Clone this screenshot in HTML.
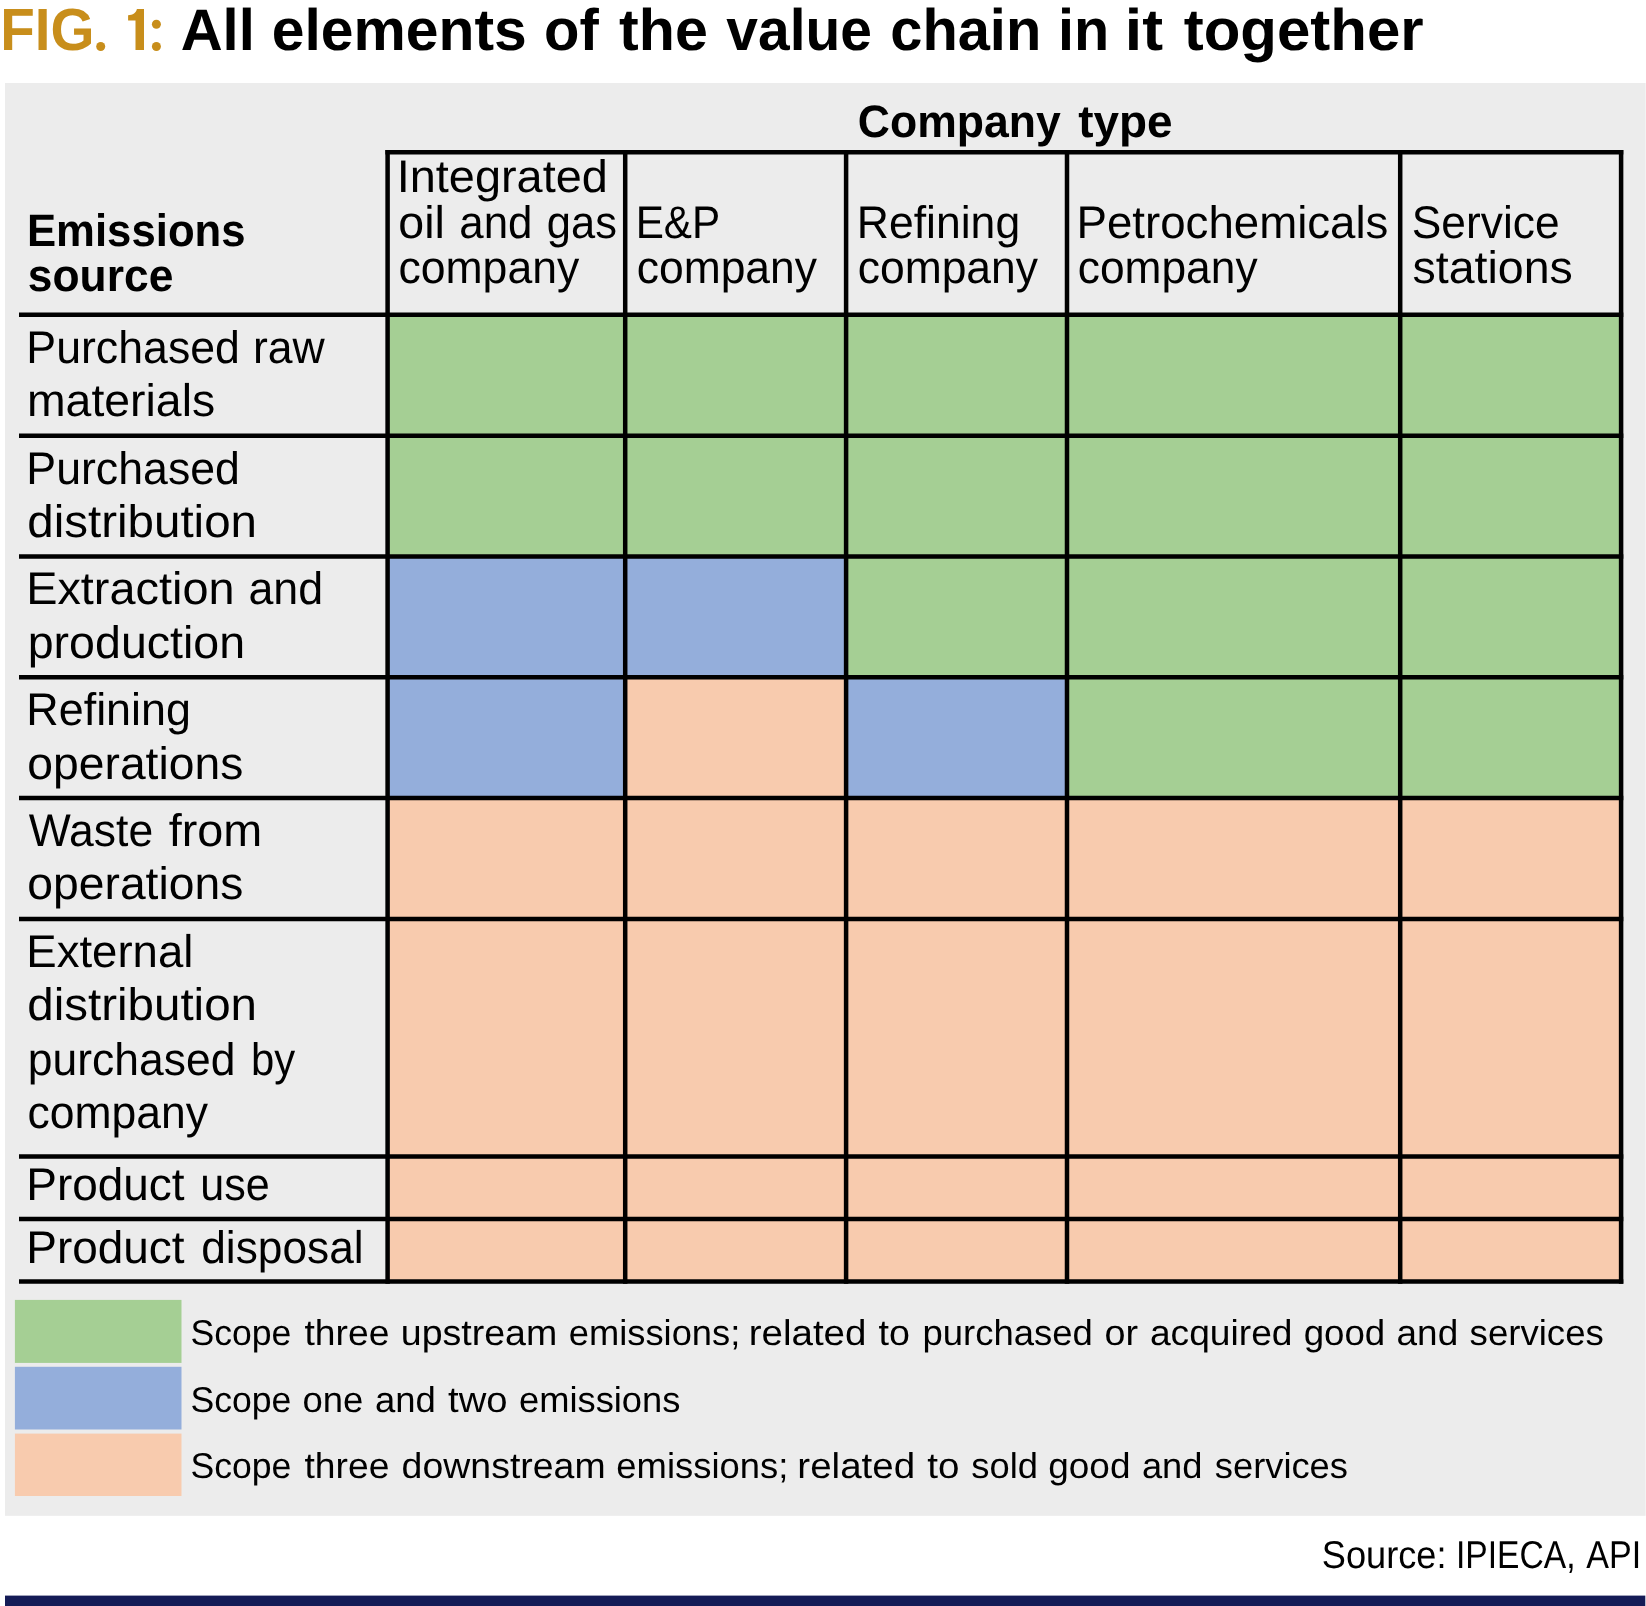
<!DOCTYPE html>
<html lang="en"><head><meta charset="utf-8"><title>FIG. 1: All elements of the value chain in it together</title>
<style>
html,body{margin:0;padding:0;background:#fff;}
body{width:1646px;height:1606px;overflow:hidden;font-family:"Liberation Sans",sans-serif;}
svg{display:block;will-change:transform;}
text{font-family:"Liberation Sans",sans-serif;fill:#000;text-rendering:geometricPrecision;}
.b{font-weight:bold;}
</style></head><body>
<svg width="1646" height="1606" viewBox="0 0 1646 1606">
<rect x="0" y="0" width="1646" height="1606" fill="#fff"/>
<rect x="5" y="83" width="1640.6" height="1432.8" fill="#ececec"/>
<rect x="5" y="1595.6" width="1640.3" height="12" fill="#141b56"/>
<rect x="387.6" y="314.8" width="237.6" height="121.0" fill="#a5cf94"/>
<rect x="625.2" y="314.8" width="220.9" height="121.0" fill="#a5cf94"/>
<rect x="846.1" y="314.8" width="220.9" height="121.0" fill="#a5cf94"/>
<rect x="1067.0" y="314.8" width="333.2" height="121.0" fill="#a5cf94"/>
<rect x="1400.2" y="314.8" width="220.9" height="121.0" fill="#a5cf94"/>
<rect x="387.6" y="435.8" width="237.6" height="120.6" fill="#a5cf94"/>
<rect x="625.2" y="435.8" width="220.9" height="120.6" fill="#a5cf94"/>
<rect x="846.1" y="435.8" width="220.9" height="120.6" fill="#a5cf94"/>
<rect x="1067.0" y="435.8" width="333.2" height="120.6" fill="#a5cf94"/>
<rect x="1400.2" y="435.8" width="220.9" height="120.6" fill="#a5cf94"/>
<rect x="387.6" y="556.4" width="237.6" height="120.8" fill="#94aedb"/>
<rect x="625.2" y="556.4" width="220.9" height="120.8" fill="#94aedb"/>
<rect x="846.1" y="556.4" width="220.9" height="120.8" fill="#a5cf94"/>
<rect x="1067.0" y="556.4" width="333.2" height="120.8" fill="#a5cf94"/>
<rect x="1400.2" y="556.4" width="220.9" height="120.8" fill="#a5cf94"/>
<rect x="387.6" y="677.2" width="237.6" height="120.7" fill="#94aedb"/>
<rect x="625.2" y="677.2" width="220.9" height="120.7" fill="#f8cbae"/>
<rect x="846.1" y="677.2" width="220.9" height="120.7" fill="#94aedb"/>
<rect x="1067.0" y="677.2" width="333.2" height="120.7" fill="#a5cf94"/>
<rect x="1400.2" y="677.2" width="220.9" height="120.7" fill="#a5cf94"/>
<rect x="387.6" y="797.9" width="237.6" height="121.1" fill="#f8cbae"/>
<rect x="625.2" y="797.9" width="220.9" height="121.1" fill="#f8cbae"/>
<rect x="846.1" y="797.9" width="220.9" height="121.1" fill="#f8cbae"/>
<rect x="1067.0" y="797.9" width="333.2" height="121.1" fill="#f8cbae"/>
<rect x="1400.2" y="797.9" width="220.9" height="121.1" fill="#f8cbae"/>
<rect x="387.6" y="919.0" width="237.6" height="237.5" fill="#f8cbae"/>
<rect x="625.2" y="919.0" width="220.9" height="237.5" fill="#f8cbae"/>
<rect x="846.1" y="919.0" width="220.9" height="237.5" fill="#f8cbae"/>
<rect x="1067.0" y="919.0" width="333.2" height="237.5" fill="#f8cbae"/>
<rect x="1400.2" y="919.0" width="220.9" height="237.5" fill="#f8cbae"/>
<rect x="387.6" y="1156.5" width="237.6" height="62.5" fill="#f8cbae"/>
<rect x="625.2" y="1156.5" width="220.9" height="62.5" fill="#f8cbae"/>
<rect x="846.1" y="1156.5" width="220.9" height="62.5" fill="#f8cbae"/>
<rect x="1067.0" y="1156.5" width="333.2" height="62.5" fill="#f8cbae"/>
<rect x="1400.2" y="1156.5" width="220.9" height="62.5" fill="#f8cbae"/>
<rect x="387.6" y="1219.0" width="237.6" height="62.5" fill="#f8cbae"/>
<rect x="625.2" y="1219.0" width="220.9" height="62.5" fill="#f8cbae"/>
<rect x="846.1" y="1219.0" width="220.9" height="62.5" fill="#f8cbae"/>
<rect x="1067.0" y="1219.0" width="333.2" height="62.5" fill="#f8cbae"/>
<rect x="1400.2" y="1219.0" width="220.9" height="62.5" fill="#f8cbae"/>
<g stroke="#000" stroke-width="4.5" stroke-linecap="butt" fill="none">
<line x1="385.4" y1="152.3" x2="1623.3" y2="152.3"/>
<line x1="19.0" y1="314.8" x2="1623.3" y2="314.8"/>
<line x1="19.0" y1="435.8" x2="1623.3" y2="435.8"/>
<line x1="19.0" y1="556.4" x2="1623.3" y2="556.4"/>
<line x1="19.0" y1="677.2" x2="1623.3" y2="677.2"/>
<line x1="19.0" y1="797.9" x2="1623.3" y2="797.9"/>
<line x1="19.0" y1="919.0" x2="1623.3" y2="919.0"/>
<line x1="19.0" y1="1156.5" x2="1623.3" y2="1156.5"/>
<line x1="19.0" y1="1219.0" x2="1623.3" y2="1219.0"/>
<line x1="19.0" y1="1281.5" x2="1623.3" y2="1281.5"/>
<line x1="387.6" y1="150.1" x2="387.6" y2="1283.8"/>
<line x1="625.2" y1="150.1" x2="625.2" y2="1283.8"/>
<line x1="846.1" y1="150.1" x2="846.1" y2="1283.8"/>
<line x1="1067.0" y1="150.1" x2="1067.0" y2="1283.8"/>
<line x1="1400.2" y1="150.1" x2="1400.2" y2="1283.8"/>
<line x1="1621.1" y1="150.1" x2="1621.1" y2="1283.8"/>
</g>
<rect x="14.9" y="1299.9" width="166.6" height="63" fill="#a5cf94"/>
<rect x="14.9" y="1366.8" width="166.6" height="62.7" fill="#94aedb"/>
<rect x="14.9" y="1433.6" width="166.6" height="62.4" fill="#f8cbae"/>
<text x="0.26" y="49.8" font-size="59.6" textLength="94.32" lengthAdjust="spacingAndGlyphs" class="b" style="fill:#c88e1b">FIG</text>
<g fill="#c88e1b">
<circle cx="100.7" cy="46.5" r="4.5"/>
<path d="M135.5 50 L135.5 20.5 L128.1 20.5 L128.1 15.2 C132.8 15 136.3 12.8 136.9 9 L144 9 L144 50 Z"/>
<circle cx="156.4" cy="24.3" r="4.5"/>
<circle cx="156.4" cy="46.5" r="4.5"/>
</g>
<text x="180.71" y="49.8" font-size="58.6" textLength="74.14" lengthAdjust="spacingAndGlyphs" class="b">All</text>
<text x="271.71" y="49.8" font-size="58.6" textLength="255.08" lengthAdjust="spacingAndGlyphs" class="b">elements</text>
<text x="544.04" y="49.8" font-size="58.6" textLength="54.74" lengthAdjust="spacingAndGlyphs" class="b">of</text>
<text x="619.09" y="49.8" font-size="58.6" textLength="88.72" lengthAdjust="spacingAndGlyphs" class="b">the</text>
<text x="726.33" y="49.8" font-size="58.6" textLength="145.61" lengthAdjust="spacingAndGlyphs" class="b">value</text>
<text x="890.24" y="49.8" font-size="58.6" textLength="151.03" lengthAdjust="spacingAndGlyphs" class="b">chain</text>
<text x="1057.92" y="49.8" font-size="58.6" textLength="51.23" lengthAdjust="spacingAndGlyphs" class="b">in</text>
<text x="1124.78" y="49.8" font-size="58.6" textLength="38.26" lengthAdjust="spacingAndGlyphs" class="b">it</text>
<text x="1183.68" y="49.8" font-size="58.6" textLength="239.96" lengthAdjust="spacingAndGlyphs" class="b">together</text>
<text x="857.77" y="137.4" font-size="45.4" textLength="202.96" lengthAdjust="spacingAndGlyphs" class="b">Company</text>
<text x="1078.25" y="137.4" font-size="45.4" textLength="94.32" lengthAdjust="spacingAndGlyphs" class="b">type</text>
<text x="26.91" y="245.8" font-size="45.4" textLength="218.73" lengthAdjust="spacingAndGlyphs" class="b">Emissions</text>
<text x="27.85" y="291.0" font-size="45.4" textLength="145.47" lengthAdjust="spacingAndGlyphs" class="b">source</text>
<text x="396.68" y="191.8" font-size="45.7" textLength="211.24" lengthAdjust="spacingAndGlyphs">Integrated</text>
<text x="398.35" y="237.7" font-size="45.7" textLength="46.55" lengthAdjust="spacingAndGlyphs">oil</text>
<text x="459.26" y="237.7" font-size="45.7" textLength="73.17" lengthAdjust="spacingAndGlyphs">and</text>
<text x="546.77" y="237.7" font-size="45.7" textLength="70.11" lengthAdjust="spacingAndGlyphs">gas</text>
<text x="398.43" y="283.3" font-size="45.7" textLength="180.85" lengthAdjust="spacingAndGlyphs">company</text>
<text x="635.63" y="237.7" font-size="45.7" textLength="84.56" lengthAdjust="spacingAndGlyphs">E&amp;P</text>
<text x="636.73" y="283.3" font-size="45.7" textLength="180.24" lengthAdjust="spacingAndGlyphs">company</text>
<text x="856.75" y="237.7" font-size="45.7" textLength="163.40" lengthAdjust="spacingAndGlyphs">Refining</text>
<text x="857.73" y="283.3" font-size="45.7" textLength="180.24" lengthAdjust="spacingAndGlyphs">company</text>
<text x="1076.56" y="237.7" font-size="45.7" textLength="311.88" lengthAdjust="spacingAndGlyphs">Petrochemicals</text>
<text x="1077.74" y="283.3" font-size="45.7" textLength="179.83" lengthAdjust="spacingAndGlyphs">company</text>
<text x="1411.81" y="237.7" font-size="45.7" textLength="147.77" lengthAdjust="spacingAndGlyphs">Service</text>
<text x="1412.54" y="283.3" font-size="45.7" textLength="160.34" lengthAdjust="spacingAndGlyphs">stations</text>
<text x="26.34" y="363.0" font-size="45.7" textLength="213.61" lengthAdjust="spacingAndGlyphs">Purchased</text>
<text x="252.96" y="363.0" font-size="45.7" textLength="71.72" lengthAdjust="spacingAndGlyphs">raw</text>
<text x="26.94" y="416.4" font-size="45.7" textLength="188.22" lengthAdjust="spacingAndGlyphs">materials</text>
<text x="26.34" y="483.9" font-size="45.7" textLength="213.61" lengthAdjust="spacingAndGlyphs">Purchased</text>
<text x="27.30" y="537.3" font-size="45.7" textLength="229.73" lengthAdjust="spacingAndGlyphs">distribution</text>
<text x="26.16" y="603.9" font-size="45.7" textLength="208.36" lengthAdjust="spacingAndGlyphs">Extraction</text>
<text x="248.42" y="603.9" font-size="45.7" textLength="74.77" lengthAdjust="spacingAndGlyphs">and</text>
<text x="27.72" y="658.2" font-size="45.7" textLength="217.36" lengthAdjust="spacingAndGlyphs">production</text>
<text x="26.32" y="725.2" font-size="45.7" textLength="164.65" lengthAdjust="spacingAndGlyphs">Refining</text>
<text x="27.36" y="778.6" font-size="45.7" textLength="215.90" lengthAdjust="spacingAndGlyphs">operations</text>
<text x="28.72" y="845.6" font-size="45.7" textLength="124.53" lengthAdjust="spacingAndGlyphs">Waste</text>
<text x="168.75" y="845.6" font-size="45.7" textLength="93.49" lengthAdjust="spacingAndGlyphs">from</text>
<text x="27.36" y="899.0" font-size="45.7" textLength="215.90" lengthAdjust="spacingAndGlyphs">operations</text>
<text x="26.26" y="966.8" font-size="45.7" textLength="167.17" lengthAdjust="spacingAndGlyphs">External</text>
<text x="27.30" y="1020.3" font-size="45.7" textLength="229.73" lengthAdjust="spacingAndGlyphs">distribution</text>
<text x="27.86" y="1074.8" font-size="45.7" textLength="207.59" lengthAdjust="spacingAndGlyphs">purchased</text>
<text x="251.02" y="1074.8" font-size="45.7" textLength="44.17" lengthAdjust="spacingAndGlyphs">by</text>
<text x="27.43" y="1128.3" font-size="45.7" textLength="180.54" lengthAdjust="spacingAndGlyphs">company</text>
<text x="26.23" y="1200.0" font-size="45.7" textLength="158.41" lengthAdjust="spacingAndGlyphs">Product</text>
<text x="200.34" y="1200.0" font-size="45.7" textLength="69.47" lengthAdjust="spacingAndGlyphs">use</text>
<text x="26.23" y="1263.0" font-size="45.7" textLength="158.41" lengthAdjust="spacingAndGlyphs">Product</text>
<text x="201.24" y="1263.0" font-size="45.7" textLength="162.38" lengthAdjust="spacingAndGlyphs">disposal</text>
<text x="190.50" y="1345.4" font-size="35.8" textLength="100.88" lengthAdjust="spacingAndGlyphs">Scope</text>
<text x="304.44" y="1345.4" font-size="35.8" textLength="84.91" lengthAdjust="spacingAndGlyphs">three</text>
<text x="400.80" y="1345.4" font-size="35.8" textLength="156.46" lengthAdjust="spacingAndGlyphs">upstream</text>
<text x="568.78" y="1345.4" font-size="35.8" textLength="171.48" lengthAdjust="spacingAndGlyphs">emissions;</text>
<text x="748.66" y="1345.4" font-size="35.8" textLength="117.83" lengthAdjust="spacingAndGlyphs">related</text>
<text x="878.54" y="1345.4" font-size="35.8" textLength="31.41" lengthAdjust="spacingAndGlyphs">to</text>
<text x="922.57" y="1345.4" font-size="35.8" textLength="170.27" lengthAdjust="spacingAndGlyphs">purchased</text>
<text x="1104.41" y="1345.4" font-size="35.8" textLength="33.60" lengthAdjust="spacingAndGlyphs">or</text>
<text x="1149.94" y="1345.4" font-size="35.8" textLength="142.54" lengthAdjust="spacingAndGlyphs">acquired</text>
<text x="1303.66" y="1345.4" font-size="35.8" textLength="81.61" lengthAdjust="spacingAndGlyphs">good</text>
<text x="1396.55" y="1345.4" font-size="35.8" textLength="61.63" lengthAdjust="spacingAndGlyphs">and</text>
<text x="1469.61" y="1345.4" font-size="35.8" textLength="134.19" lengthAdjust="spacingAndGlyphs">services</text>
<text x="190.50" y="1412.3" font-size="35.8" textLength="100.88" lengthAdjust="spacingAndGlyphs">Scope</text>
<text x="302.47" y="1412.3" font-size="35.8" textLength="60.85" lengthAdjust="spacingAndGlyphs">one</text>
<text x="374.97" y="1412.3" font-size="35.8" textLength="60.89" lengthAdjust="spacingAndGlyphs">and</text>
<text x="448.13" y="1412.3" font-size="35.8" textLength="59.45" lengthAdjust="spacingAndGlyphs">two</text>
<text x="518.98" y="1412.3" font-size="35.8" textLength="161.43" lengthAdjust="spacingAndGlyphs">emissions</text>
<text x="190.50" y="1478.3" font-size="35.8" textLength="100.88" lengthAdjust="spacingAndGlyphs">Scope</text>
<text x="304.44" y="1478.3" font-size="35.8" textLength="84.91" lengthAdjust="spacingAndGlyphs">three</text>
<text x="401.63" y="1478.3" font-size="35.8" textLength="204.00" lengthAdjust="spacingAndGlyphs">downstream</text>
<text x="616.37" y="1478.3" font-size="35.8" textLength="171.89" lengthAdjust="spacingAndGlyphs">emissions;</text>
<text x="797.36" y="1478.3" font-size="35.8" textLength="117.83" lengthAdjust="spacingAndGlyphs">related</text>
<text x="927.22" y="1478.3" font-size="35.8" textLength="32.16" lengthAdjust="spacingAndGlyphs">to</text>
<text x="971.32" y="1478.3" font-size="35.8" textLength="66.62" lengthAdjust="spacingAndGlyphs">sold</text>
<text x="1048.25" y="1478.3" font-size="35.8" textLength="82.24" lengthAdjust="spacingAndGlyphs">good</text>
<text x="1141.88" y="1478.3" font-size="35.8" textLength="60.56" lengthAdjust="spacingAndGlyphs">and</text>
<text x="1214.82" y="1478.3" font-size="35.8" textLength="133.17" lengthAdjust="spacingAndGlyphs">services</text>
<text x="1321.87" y="1567.7" font-size="38.8" textLength="124.63" lengthAdjust="spacingAndGlyphs">Source:</text>
<text x="1456.01" y="1567.7" font-size="38.8" textLength="119.50" lengthAdjust="spacingAndGlyphs">IPIECA,</text>
<text x="1586.23" y="1567.7" font-size="38.8" textLength="54.90" lengthAdjust="spacingAndGlyphs">API</text>
</svg>
</body></html>
